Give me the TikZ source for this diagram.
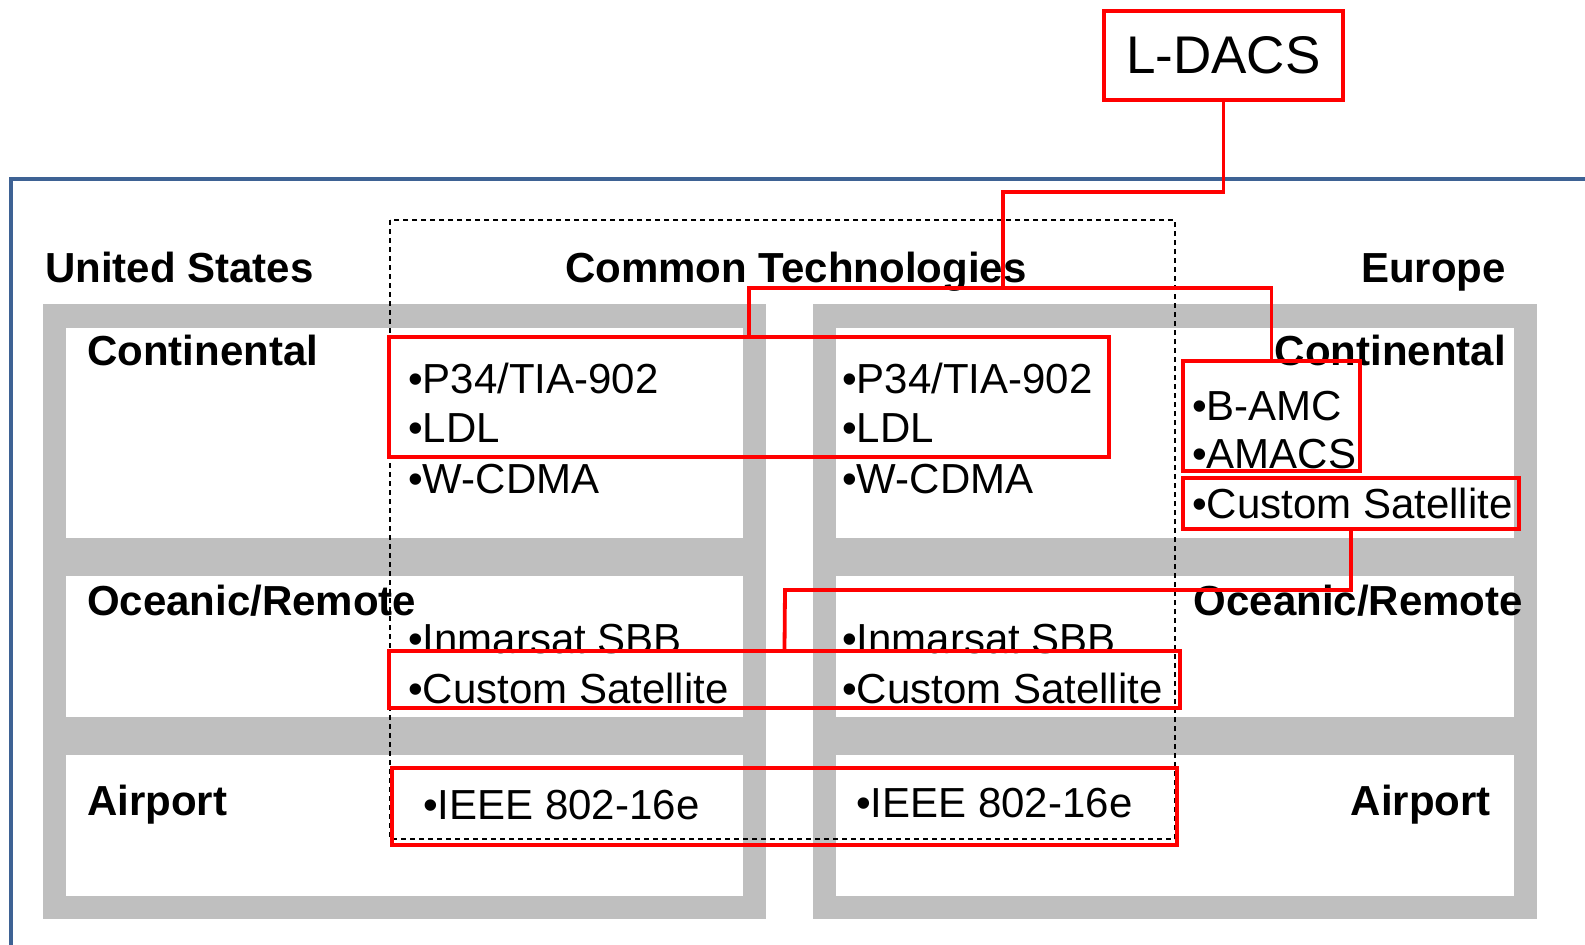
\documentclass[tikz,border=0pt]{standalone}
\usepackage{fontspec}
\setmainfont{Liberation Sans}
\usetikzlibrary{fit}
\definecolor{framegray}{RGB}{191,191,191}
\definecolor{frameblue}{RGB}{62,98,148}
\definecolor{hired}{RGB}{255,0,0}
\tikzset{
 redbox/.style={draw=hired, line width=3.8pt, inner sep=0pt},
 redline/.style={draw=hired, line width=3.8pt},
 head/.style={font=\fontsize{42}{50}\selectfont\bfseries, inner sep=0pt},
 item/.style={font=\fontsize{42}{50}\selectfont, inner sep=0pt},
 panel/.style={fill=framegray},
 cell/.style={fill=white},
 dashbox/.style={draw=black, line width=1.4pt, dash pattern=on 5pt off 4pt},
}
\begin{document}
\begin{tikzpicture}[x=1pt,y=-1pt]
\useasboundingbox (0,0) rectangle (1585,945);
\fill[white] (0,0) rectangle (1585,945);
% blue frame
\draw[frameblue, line width=4pt] (1585,179) -- (11,179) -- (11,945);
% grey panels
\fill[panel] (43,304) rectangle (766,919);
\fill[panel] (813,304) rectangle (1537,919);
\foreach \a/\b in {328/538, 576/717, 755/896} {
  \fill[cell] (66,\a) rectangle (743,\b);
  \fill[cell] (836,\a) rectangle (1514,\b);
}
% dashed box
\draw[dashbox] (390,220) rectangle (1175,839);
% headings
\node[head, anchor=base west] (us) at (45,282) {United States};
\node[head, anchor=base west] (ct) at (565,282) {Common Technologies};
\node[head, anchor=base east] (eu) at (1506,282) {Europe};
\node[head, anchor=base west] (contL) at (87,365) {Continental};
\node[head, anchor=base east] (contR) at (1506,365) {Continental};
\node[head, anchor=base west] (oceL) at (87,615) {Oceanic/Remote};
\node[head, anchor=base east] (oceR) at (1523,615) {Oceanic/Remote};
\node[head, anchor=base west] (airL) at (87,815) {Airport};
\node[head, anchor=base east] (airR) at (1491,815) {Airport};
% items
\node[item, anchor=base west] (p34a) at (408,393) {•P34/TIA-902};
\node[item, anchor=base west] (ldla) at (408,442) {•LDL};
\node[item, anchor=base west] (wcdmaa) at (408,493) {•W-CDMA};
\node[item, anchor=base west] (p34b) at (842,393) {•P34/TIA-902};
\node[item, anchor=base west] (ldlb) at (842,442) {•LDL};
\node[item, anchor=base west] (wcdmab) at (842,493) {•W-CDMA};
\node[item, anchor=base west] (bamc) at (1192,420) {•B-AMC};
\node[item, anchor=base west] (amacs) at (1192,468) {•AMACS};
\node[item, anchor=base west] (eucs) at (1192,518) {•Custom Satellite};
\node[item, anchor=base west] (inma) at (408,653) {•Inmarsat SBB};
\node[item, anchor=base west] (csa) at (408,703) {•Custom Satellite};
\node[item, anchor=base west] (inmb) at (842,653) {•Inmarsat SBB};
\node[item, anchor=base west] (csb) at (842,703) {•Custom Satellite};
\node[item, anchor=base west] (ieeea) at (423,819) {•IEEE 802-16e};
\node[item, anchor=base west] (ieeeb) at (856,817) {•IEEE 802-16e};
% red boxes
\node[redbox, minimum width=239pt, minimum height=89pt, anchor=north west,
      font=\fontsize{53}{60}\selectfont] (ldacs) at (1102,9) {L-DACS};
\node[redbox, fit={(389,337)(1109,457)}] (ctc) {};
\node[redbox, fit={(1183,361)(1360,471)}] (eucont) {};
\node[redbox, fit={(1183,478)(1519,529)}] (eusat) {};
\node[redbox, fit={(389,651)(1180,708)}] (ocsat) {};
\node[redbox, fit={(392,768)(1177,845)}] (airp) {};
% connectors
\coordinate (bend) at (1003,192);
\coordinate (hub) at (1003,288);
\coordinate (low) at (785,590);
\draw[redline] (ldacs.south) |- (bend) -- (hub);
\draw[redline] (ctc.north) |- (hub) -| (eucont.north);
\draw[redline] (eusat.south) |- (low) -- (ocsat.north);
\end{tikzpicture}
\end{document}
